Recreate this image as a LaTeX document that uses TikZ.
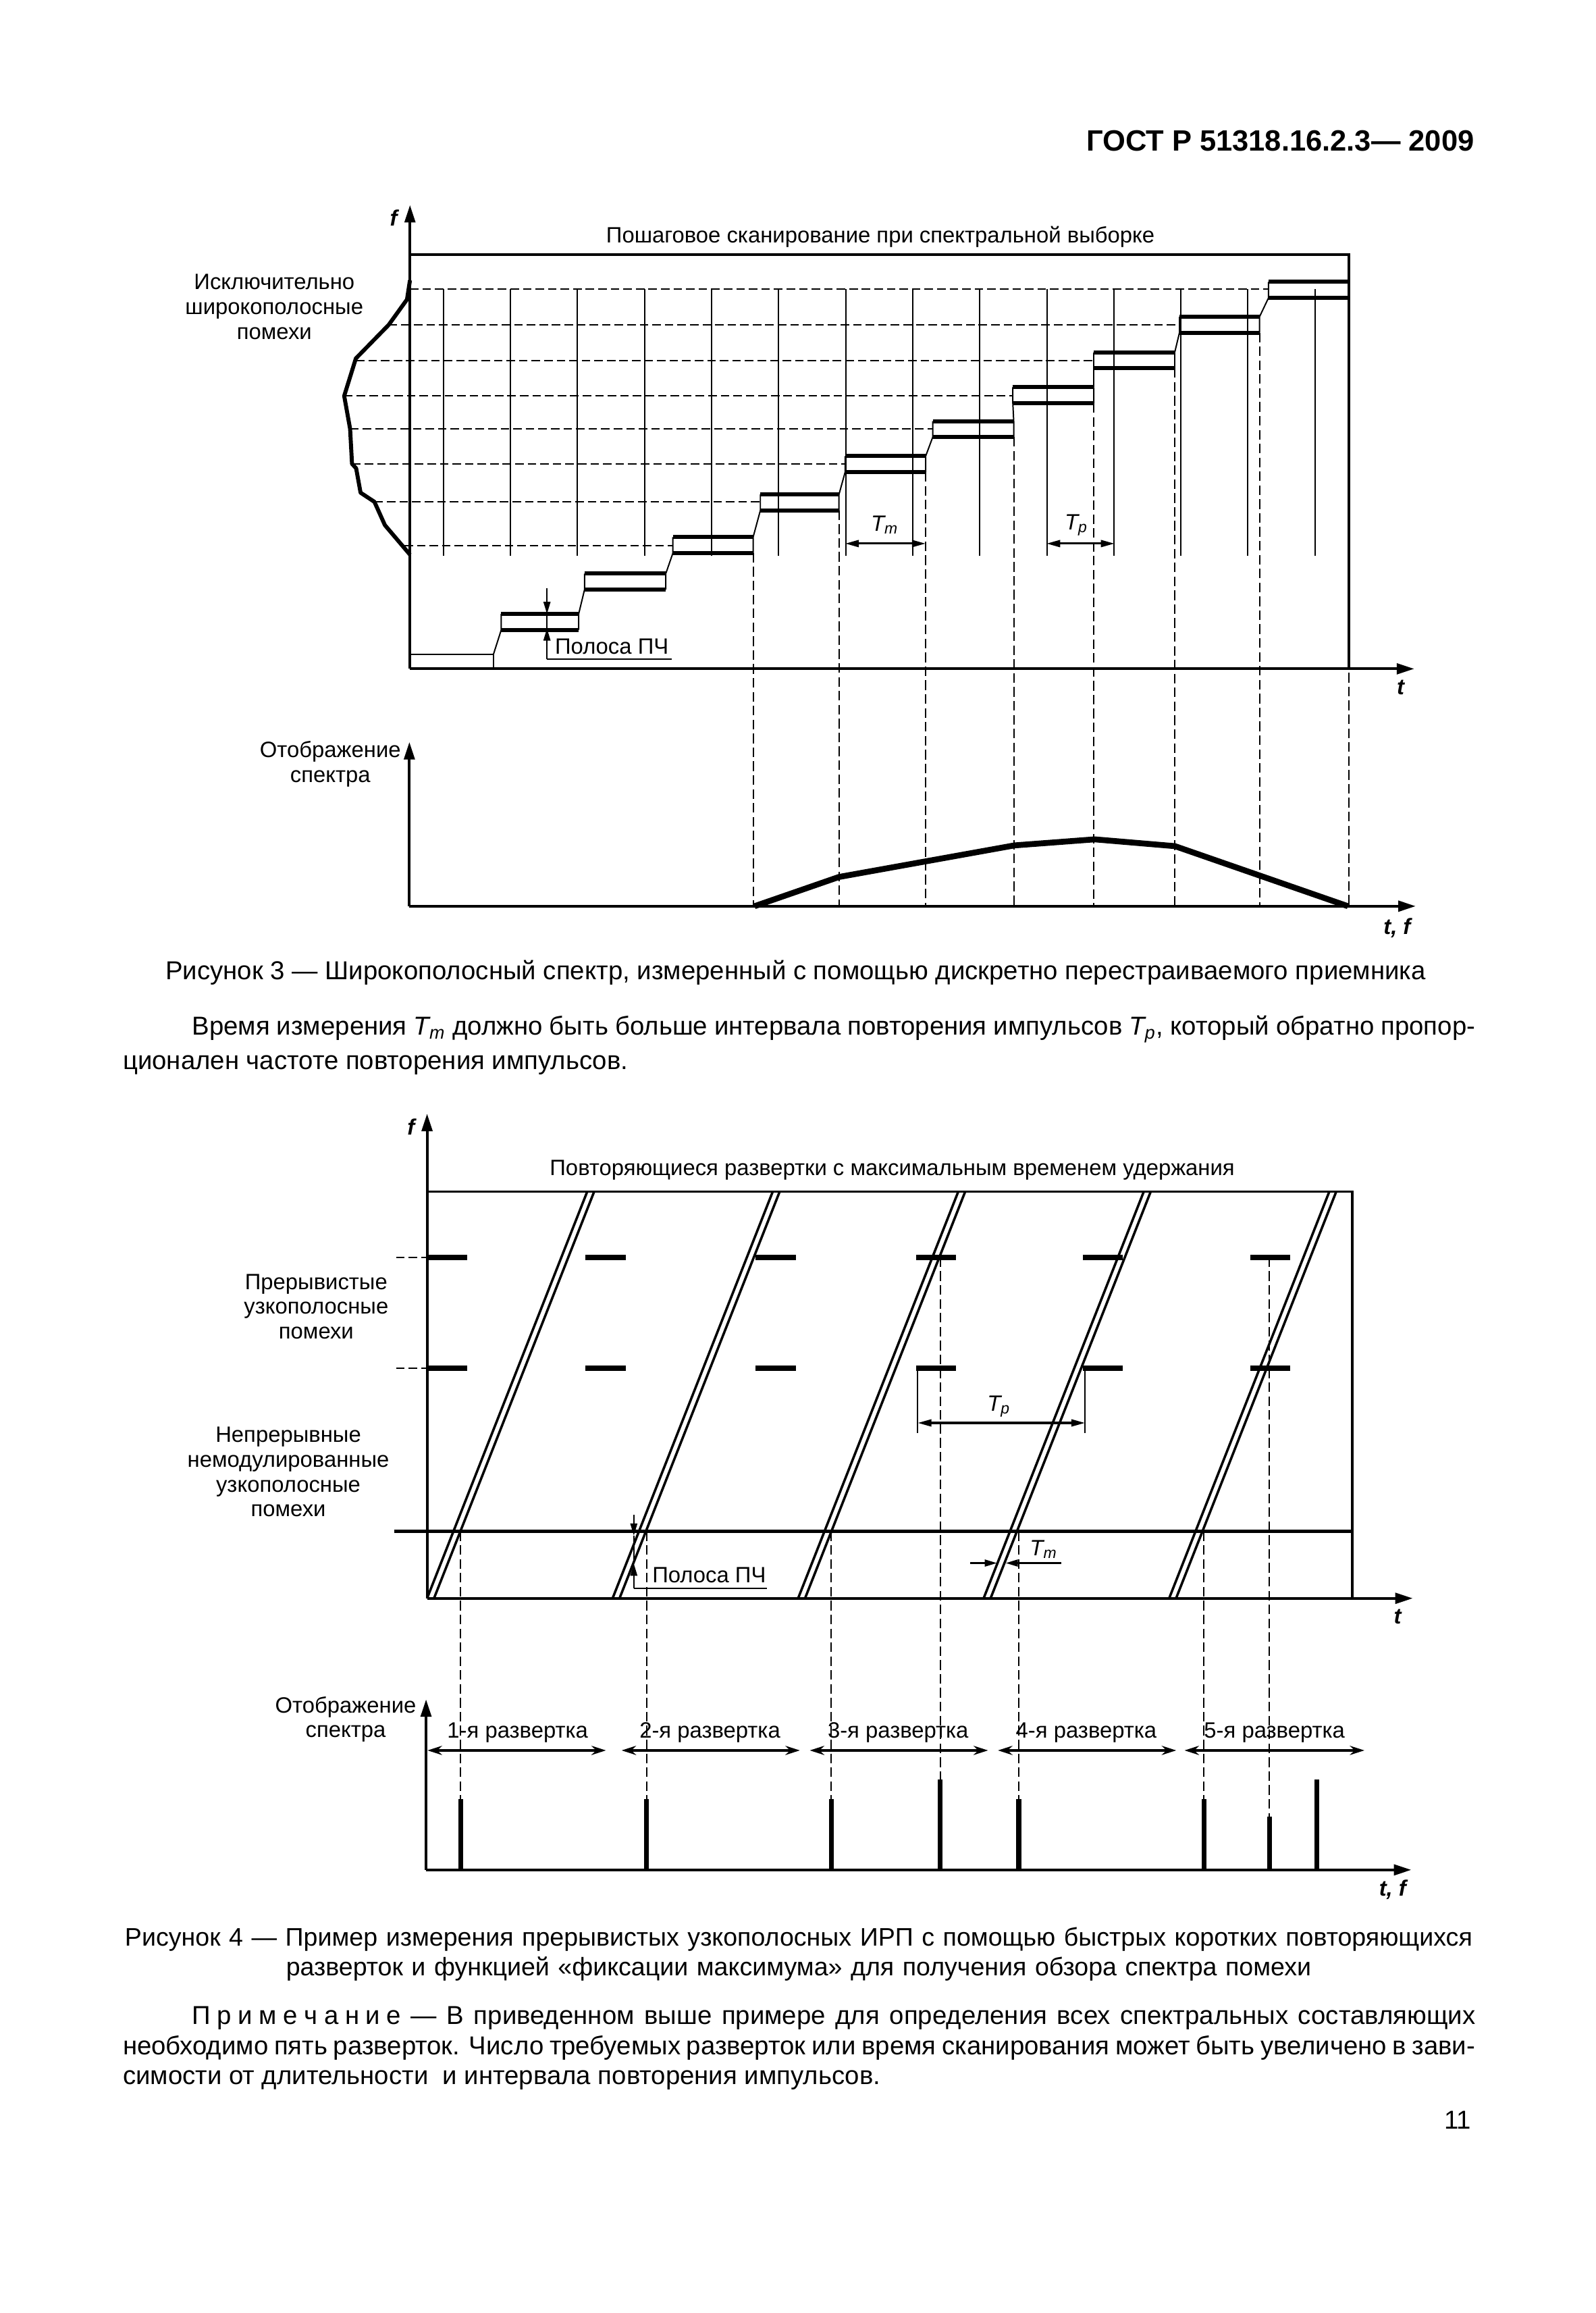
\documentclass[tikz,border=0pt]{standalone}
\usepackage{fontspec}
\setmainfont{Liberation Sans}
\usetikzlibrary{arrows.meta}

\begin{document}
\begin{tikzpicture}[
  x=0.1941mm, y=-0.1941mm,
  font=\fontsize{8.3}{9.3}\selectfont,
  body/.style={font=\fontsize{9.7}{11.2}\selectfont, inner sep=0pt},
  lbl/.style={align=center, inner sep=0pt},
  axis/.style={line width=1pt, -{Triangle[length=2.3mm,width=1.4mm]}},
  frameln/.style={line width=0.9pt},
  thinln/.style={line width=0.5pt},
  gridln/.style={line width=0.55pt, dash pattern=on 3.2pt off 1.5pt},
  dropln/.style={line width=0.5pt, dash pattern=on 3.6pt off 1.6pt},
  boxln/.style={line width=1.5pt},
  dimarr/.style={line width=0.8pt, {Triangle[length=1.8mm,width=0.9mm]}-{Triangle[length=1.8mm,width=0.9mm]}},
  tip/.style={line width=0.6pt, -{Triangle[length=1.6mm,width=0.9mm]}},
  spanarr/.style={line width=1.1pt, {Stealth[length=1.9mm,width=1.2mm]}-{Stealth[length=1.9mm,width=1.2mm]}},
  pulse/.style={line width=2pt},
  peak/.style={line width=1.8pt},
  sweepln/.style={line width=0.9pt},
]
\fill[white] (0,0) rectangle (1082,1568);
\useasboundingbox (0,0) rectangle (1082,1568);

\node[anchor=base east, inner sep=0pt, font=\fontsize{11}{13}\bfseries] (header) at (1000,102.5) {ГОСТ Р 51318.16.2.3— 2009};

% ---- figure 3 ----
\node[anchor=base] (title3) at (597,164.5) {Пошаговое сканирование при спектральной выборке};
\node (flabel3) at (267.6,147.9) {\textbf{\textit{f}}};
\node[lbl] (wideband) at (186,208) {Исключительно\\широкополосные\\помехи};

\foreach \k in {0,...,13}
  \draw[thinln] ({300.7+45.46*\k},196.1) -- ({300.7+45.46*\k},376.8);
\foreach \y/\xa/\xb in {196.1/278/860.2, 220.2/263.6/799.8, 244.3/241.3/741.7,
    268.4/233.4/686.8, 290.7/237.4/632.5, 314.4/238.7/573.1,
    340.2/253.9/515.6, 369.8/274.2/456.3}
  \draw[gridln] (\xa,\y) -- (\xb,\y);
\draw[line width=1.5pt, line join=round] (278,190) -- (276,203) -- (263.6,220.2)
  -- (241.3,243) -- (233.4,268.4) -- (237.4,290.7) -- (238.7,314.4) -- (241.5,317.5)
  -- (244.5,334) -- (253.9,340.2) -- (261,356) -- (278,376);

% staircase
\draw[thinln] (278,443.6) -- (334.6,443.6) -- (334.6,453.4);
\foreach \xl/\xr/\yt [remember=\xr as \pxr (initially 334.6),
                      remember=\yt as \pyt (initially 443.6)] in
  {339.9/392.4/416.2, 396.4/451.5/388.8, 456.3/510.7/364.1, 515.6/568.9/335.2,
   573.1/627.7/309.2, 632.5/687.4/285.5, 686.8/741.7/262.5, 741.7/796.6/238.8,
   799.8/854.1/214.7, 860.2/914.8/191.1}
{
  \draw[thinln] (\pxr,\pyt) -- (\xl,\yt+10.8) -- (\xl,\yt) (\xr,\yt) -- (\xr,\yt+10.8);
  \draw[boxln] (\xl,\yt) -- (\xr,\yt) (\xl,\yt+10.8) -- (\xr,\yt+10.8);
}
\foreach \x/\y in {510.7/374.9, 568.9/346, 627.7/320, 687.4/296.3,
                   741.7/273.3, 796.6/249.6, 854.1/225.5, 914.8/201.9}
  \draw[dropln] (\x,\y) -- (\x,614.3);

\draw[frameln] (278,172.7) -- (914.8,172.7) -- (914.8,453.4);
\draw[axis] (278,453.4) -- (278,139);
\draw[axis] (278,453.4) -- (959,453.4);
\node (tlabel3) at (950,466) {\textbf{\textit{t}}};

\draw[dimarr] (573.1,368.5) -- (627.7,368.5);
\draw[dimarr] (709.6,368.5) -- (755.8,368.5);
\node (tmlabel3) at (600,356) {\textit{T\textsubscript{m}}};
\node (tplabel3) at (730,356) {\textit{T\textsubscript{p}}};

\draw[tip] (370.9,398.7) -- (370.9,416.2);
\draw[tip] (370.9,446.9) -- (370.9,426);
\draw[thinln] (370.9,416.2) -- (370.9,426) (370.9,446.9) -- (455.5,446.9);
\node[anchor=base west, inner sep=0pt] (ifband3) at (376,443.5) {Полоса ПЧ};

% spectrum display
\draw[axis] (277.6,614.3) -- (277.6,503);
\draw[axis] (277.6,614.3) -- (960,614.3);
\node[lbl] (disp3) at (224,518) {Отображение\\спектра};
\draw[line width=2.2pt, line join=round] (511.7,614.3) -- (568.9,594.5) -- (687.9,573.1)
  -- (742.3,569) -- (796.7,573.6) -- (914,614.3);
\node (tflabel3) at (948,629) {\textbf{\textit{t, f}}};

\node[body, anchor=base] (caption3) at (539.5,664)
  {Рисунок 3 — Широкополосный спектр, измеренный с помощью дискретно перестраиваемого приемника};
\node[body, font=\fontsize{9.7}{13}\selectfont, text width=178mm, align=justify, anchor=north west] (para) at (83,688)
  {\hspace*{9.1mm}Время измерения \textit{T\textsubscript{m}} должно быть больше интервала повторения импульсов \textit{T\textsubscript{p}}, который обратно пропор-\linebreak ционален частоте повторения импульсов.};

% ---- figure 4 ----
\node[anchor=base] (title4) at (605,797) {Повторяющиеся развертки с максимальным временем удержания};
\node (flabel4) at (279.4,764) {\textbf{\textit{f}}};
\node[lbl] (intermit) at (214.4,885.7) {Прерывистые\\узкополосные\\помехи};
\node[lbl] (contin) at (195.5,997.8) {Непрерывные\\немодулированные\\узкополосные\\помехи};

\foreach \x in {289.6,397.1,512.5,621.3,734.4,847.9}
  \foreach \y in {852.4,927.7}
    \draw[pulse] (\x,\y) -- (\x+27.1,\y);
\foreach \y in {852.4,927.7}
  \draw[gridln] (268.6,\y) -- (289.6,\y);
\draw[line width=1.4pt] (267.2,1038.1) -- (917.1,1038.1);
\foreach \i in {0,...,4}
{
  \draw[sweepln] ({289.6+125.8*\i},1083.5) -- ({398.2+125.8*\i},807.8);
  \draw[sweepln] ({294.3+125.8*\i},1083.5) -- ({402.9+125.8*\i},807.8);
}
\foreach \x/\ya/\yb in {312.4/1038.1/1219.4, 438.5/1038.1/1219.4, 563.7/1038.1/1219.4,
    637.5/852.4/1206.3, 690.8/1038.1/1219.4, 816.3/1038.1/1219.4, 860.7/852.4/1231.7}
  \draw[dropln] (\x,\ya) -- (\x,\yb);

\draw[frameln] (289.6,807.8) -- (917.1,807.8) -- (917.1,1083.5);
\draw[axis] (289.6,1083.5) -- (289.6,755);
\draw[axis] (289.6,1083.5) -- (958,1083.5);
\node (tlabel4) at (948,1096) {\textbf{\textit{t}}};

\draw[thinln] (622.3,927.7) -- (622.3,971.3) (735.8,927.7) -- (735.8,971.3);
\draw[dimarr] (622.3,964.6) -- (735.8,964.6);
\node (tplabel4) at (677.4,953.4) {\textit{T\textsubscript{p}}};
\draw[tip] (657.8,1059.6) -- (676,1059.6);
\draw[tip] (719.5,1059.6) -- (682,1059.6);
\node (tmlabel4) at (707.8,1050.3) {\textit{T\textsubscript{m}}};

\draw[tip] (429.8,1027) -- (429.8,1041);
\draw[tip] (429.8,1076.6) -- (429.8,1060);
\draw[thinln] (429.8,1041) -- (429.8,1060) (429.8,1076.6) -- (520.2,1076.6);
\node[anchor=base west, inner sep=0pt] (ifband4) at (442,1073) {Полоса ПЧ};

% spectrum display
\draw[axis] (288.9,1267.6) -- (288.9,1152);
\draw[axis] (288.9,1267.6) -- (957,1267.6);
\node[lbl] (disp4) at (234.4,1165.5) {Отображение\\спектра};
\foreach \x [count=\n] in {351,481.4,609,736.6,864.2}
  \node (sweep\n) at (\x,1174.7) {\n-я развертка};
\foreach \xa/\xb in {289.9/410.9, 421.5/542.4, 549.1/670, 676.7/797.6, 803.2/925.2}
  \draw[spanarr] (\xa,1186.6) -- (\xb,1186.6);
\foreach \x/\y in {312.4/1219.4, 438.5/1219.4, 563.7/1219.4, 637.5/1206.3,
                   690.8/1219.4, 816.3/1219.4, 860.7/1231.7, 893/1206.3}
  \draw[peak] (\x,1267.6) -- (\x,\y);
\node (tflabel4) at (945,1281) {\textbf{\textit{t, f}}};

\node[body, font=\fontsize{9.5}{11.2}\selectfont, text width=190mm, align=center, anchor=north] (caption4) at (541.5,1306)
  {Рисунок 4 — Пример измерения прерывистых узкополосных ИРП с помощью быстрых коротких повторяющихся\\
   разверток и функцией «фиксации максимума» для получения обзора спектра помехи};
\node[body, text width=178mm, align=justify, anchor=north west] (note) at (83,1360)
  {\hspace*{9.1mm}П\hspace{.25em}р\hspace{.25em}и\hspace{.25em}м\hspace{.25em}е\hspace{.25em}ч\hspace{.25em}а\hspace{.25em}н\hspace{.25em}и\hspace{.25em}е — В приведенном выше примере для определения всех спектральных составляющих\linebreak необходимо пять разверток. Число требуемых разверток или время сканирования может быть увеличено в зави-\linebreak симости от длительности~ и интервала повторения импульсов.};
\node[body, anchor=base east] (pagenum) at (998,1443) {11};
\end{tikzpicture}
\end{document}
